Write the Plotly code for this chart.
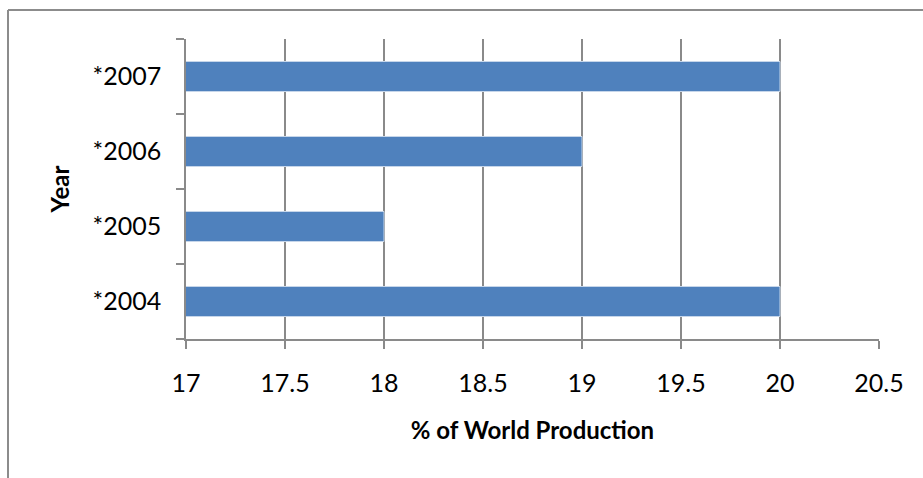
import plotly.graph_objects as go

years = ["*2004", "*2005", "*2006", "*2007"]
share = [20, 18, 19, 20]
x_ticks = [17, 17.5, 18, 18.5, 19, 19.5, 20, 20.5]
x_tick_labels = ["17", "17.5", "18", "18.5", "19", "19.5", "20", "20.5"]

W, H = 923, 478
ml, mr, mt, mb = 186, 44, 39, 139
pw, ph = W - ml - mr, H - mt - mb

fig = go.Figure(go.Bar(
    x=share, y=years, orientation="h",
    marker=dict(color="#4F81BD", line=dict(color="#c6d6ea", width=1)),
    width=0.4,
))

font = "Lato, Liberation Sans, Arial, sans-serif"
grey = "#8a8a8a"

fig.update_layout(
    width=W, height=H,
    margin=dict(l=ml, r=mr, t=mt, b=mb),
    paper_bgcolor="white", plot_bgcolor="white",
    font=dict(family=font, size=25, color="black"),
    showlegend=False,
    xaxis=dict(
        range=[17, 20.5], tickvals=x_ticks, ticktext=x_tick_labels,
        showgrid=True, gridcolor=grey, gridwidth=1.5,
        showline=True, linecolor=grey, linewidth=1.5,
        ticks="outside", ticklen=8, tickcolor=grey, tickwidth=1.5,
        ticklabelstandoff=13,
        zeroline=False,
        title=dict(text="<b>% of World Production</b>", font=dict(size=24), standoff=26),
    ),
    yaxis=dict(
        categoryorder="array", categoryarray=years,
        showgrid=False,
        showline=True, linecolor=grey, linewidth=1.5,
        ticks="outside", ticklen=8, tickcolor=grey, tickwidth=1.5,
        tickson="boundaries",
        ticklabelstandoff=18,
        title=dict(text="<b>Year</b>", font=dict(size=24), standoff=16),
    ),
    shapes=[
        dict(type="line", xref="paper", yref="paper",
             x0=(8 - ml) / pw, x1=(W + 5 - ml) / pw,
             y0=(H - mb - 10) / ph, y1=(H - mb - 10) / ph,
             line=dict(color="#8c8c8c", width=2)),
        dict(type="line", xref="paper", yref="paper",
             x0=(8 - ml) / pw, x1=(8 - ml) / pw,
             y0=(H - mb - 10) / ph, y1=-(mb + 5) / ph,
             line=dict(color="#8c8c8c", width=2)),
    ],
)

fig.write_html("out.html")
